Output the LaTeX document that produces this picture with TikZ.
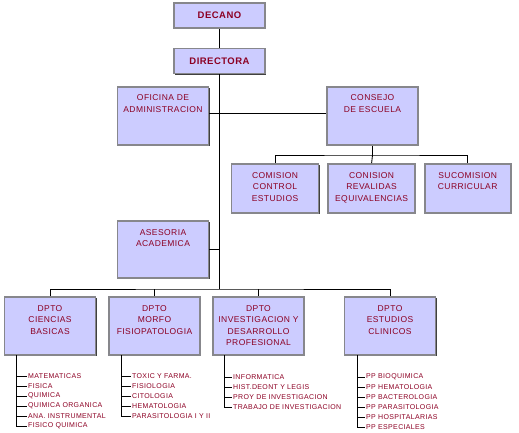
\documentclass[tikz,border=0pt]{standalone}
\usepackage{fontspec}
\setmainfont{Liberation Sans}
\newfontfamily\boxfont[LetterSpace=5]{Liberation Sans}
\usepackage{xcolor}
\usepackage{tikz}
\usetikzlibrary{positioning,shadows}
\definecolor{boxfill}{RGB}{204,204,255}
\definecolor{boxline}{RGB}{135,135,140}
\definecolor{txtred}{RGB}{140,0,35}
\newcommand{\lines}[1]{\begin{tabular}[t]{@{}c@{}}#1\end{tabular}}
\tikzset{
  unit/.style   ={draw=boxline, line width=1.6pt, fill=boxfill, text=txtred, inner ysep=4pt,
                  font=\boxfont\fontsize{8.5}{11.5}\selectfont, minimum width=91pt, text height=10pt, text depth=#1,
                  drop shadow={shadow xshift=1.3pt, shadow yshift=-1.3pt, fill=black!75, opacity=1}},
  head/.style   ={unit=5pt, text height=12pt, font=\boxfont\bfseries\fontsize{9.5}{11.5}\selectfont},
  link/.style   ={draw=black, line width=0.9pt},
  item/.style   ={anchor=west, inner sep=1pt, text=txtred, font=\boxfont\fontsize{7}{8}\selectfont},
}
\begin{document}
\begin{tikzpicture}[x=1pt, y=-1pt]
  \useasboundingbox (0,0) rectangle (519,433);

  % top of the chart
  \node[head] (decano) at (219.5,15.5) {DECANO};
  \node[head] (directora) at (219.5,61) {DIRECTORA};
  \node[unit=40pt] (oficina) at (163,116) {\lines{OFICINA DE \\ ADMINISTRACION}};
  \node[unit=40pt] (consejo) at (372.5,116) {\lines{CONSEJO \\ DE ESCUELA}};

  % commissions under the school council
  \node[unit=31pt, minimum width=87pt] (control) at (275,188.5) {\lines{COMISION \\ CONTROL \\ ESTUDIOS}};
  \node[unit=31pt, minimum width=87pt, right=8pt of control] (revalidas) {\lines{CONISION \\ REVALIDAS \\ EQUIVALENCIAS}};
  \node[unit=31pt, minimum width=86pt, right=8pt of revalidas] (curricular) {\lines{SUCOMISION \\ CURRICULAR}};

  \node[unit=39pt] (asesoria) at (163,249.5) {\lines{ASESORIA \\ ACADEMICA}};

  % departments
  \node[unit=40pt] (ciencias) at (50,326) {\lines{DPTO \\ CIENCIAS \\ BASICAS}};
  \node[unit=40pt] (morfo) at (154.5,326) {\lines{DPTO \\ MORFO \\ FISIOPATOLOGIA}};
  \node[unit=40pt] (invest) at (258.5,326) {\lines{DPTO \\ INVESTIGACION Y \\ DESARROLLO \\ PROFESIONAL}};
  \node[unit=40pt] (estudios) at (390,326) {\lines{DPTO \\ ESTUDIOS \\ CLINICOS}};

  \coordinate (trunk) at (219,289);
  \coordinate (cbus) at (372.5,155);

  \draw[link] (decano) -- (directora);
  \draw[link] (directora.south -| trunk) -- (trunk);
  \draw[link] ([yshift=3pt]oficina.east) -- ([yshift=3pt]consejo.west);
  \draw[link] (consejo) -- (cbus);
  \draw[link] (control.north) |- (cbus) -| (curricular.north);
  \draw[link] (cbus) -- (revalidas.north);
  \draw[link] (asesoria.east) -- (asesoria.east -| trunk);
  \draw[link] (ciencias.north) |- (trunk) -| (estudios.north);
  \draw[link] (morfo.north) -- (morfo.north |- trunk);
  \draw[link] (invest.north) -- (invest.north |- trunk);

  % subject lists
  \coordinate (cspine) at (16,355);
  \foreach \t [count=\i] in {MATEMATICAS, FISICA, QUIMICA, QUIMICA ORGANICA, ANA. INSTRUMENTAL, FISICO QUIMICA} {
    \node[item] (c\i) at (27,366+10*\i) {\t};
    \draw[link] (cspine) |- (c\i.west);
  }
  \coordinate (mspine) at (121,355);
  \foreach \t [count=\i] in {TOXIC Y FARMA., FISIOLOGIA, CITOLOGIA, HEMATOLOGIA, PARASITOLOGIA I Y II} {
    \node[item] (m\i) at (131,366+10*\i) {\t};
    \draw[link] (mspine) |- (m\i.west);
  }
  \coordinate (ispine) at (224,355);
  \foreach \t [count=\i] in {INFORMATICA, HIST.DEONT Y LEGIS, PROY DE INVESTIGACION, TRABAJO DE INVESTIGACION} {
    \node[item] (i\i) at (232,367+10*\i) {\t};
    \draw[link] (ispine) |- (i\i.west);
  }
  \coordinate (espine) at (357,355);
  \foreach \t [count=\i] in {PP BIOQUIMICA, PP HEMATOLOGIA, PP BACTEROLOGIA, PP PARASITOLOGIA, PP HOSPITALARIAS, PP ESPECIALES} {
    \node[item] (e\i) at (365,367+10*\i) {\t};
    \draw[link] (espine) |- (e\i.west);
  }
\end{tikzpicture}
\end{document}
